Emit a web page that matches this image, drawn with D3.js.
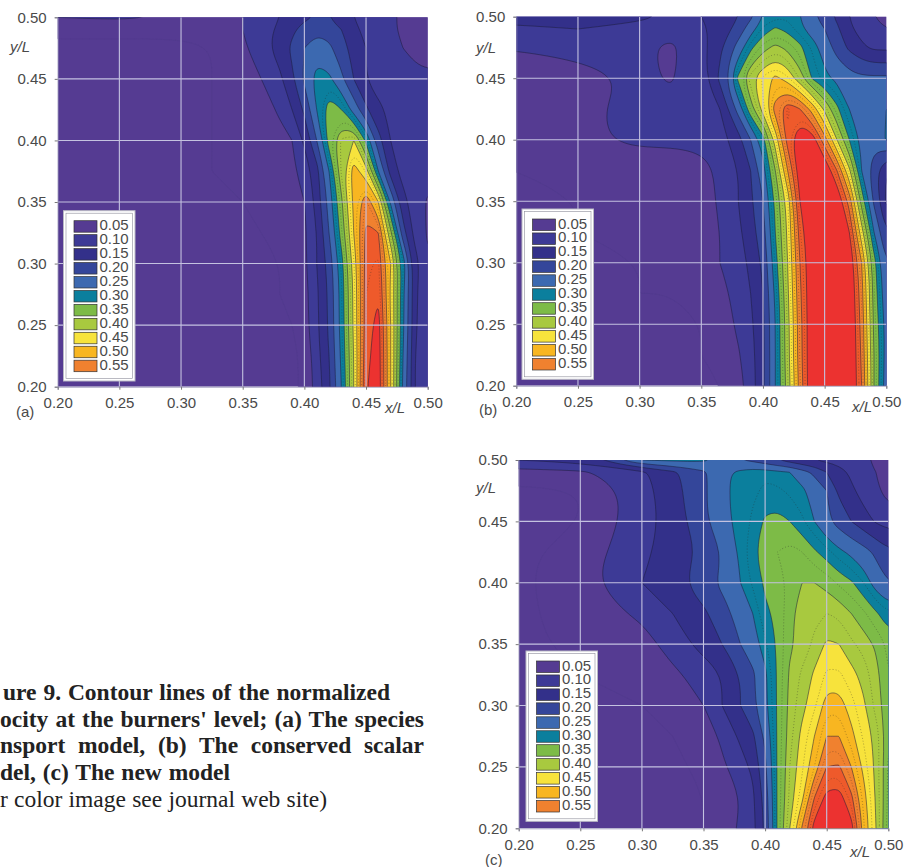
<!DOCTYPE html>
<html><head><meta charset="utf-8">
<style>html,body{margin:0;padding:0;background:#fff;overflow:hidden}</style>
<script src="https://cdnjs.cloudflare.com/ajax/libs/d3/7.8.5/d3.min.js"></script>
</head><body><svg id="c" width="906" height="867" xmlns="http://www.w3.org/2000/svg"></svg>
<script>
const xNodes=[.20,.25,.30,.325,.35,.365,.38,.39,.40,.41,.42,.43,.44,.45,.46,.47,.48,.49,.50];
const yNodes=[.50,.49,.475,.45,.425,.40,.375,.35,.325,.30,.275,.25,.225,.20];
const tickValues=[.20,.25,.30,.35,.40,.45,.50];
const levels=[.05,.10,.15,.20,.25,.30,.35,.40,.45,.50,.55,.60,.65];
const levelColors=["#553b92","#3d3a96","#33308a","#34469a","#3c69b0","#0b7f9d","#7dbb47","#a8c93f","#f7e33c","#f8b621","#f0812f","#ee5a2b","#ec3230"];
const legendLabels=["0.05","0.10","0.15","0.20","0.25","0.30","0.35","0.40","0.45","0.50","0.55"];
const dottedLevels=[.325,.375,.425,.475,.525,.575,.625];
const valuesA=[
[.10,.11,.09,.08,.10,.12,.15,.17,.19,.205,.20,.18,.15,.13,.12,.11,.09,.08,.08],
[.06,.06,.06,.07,.10,.13,.16,.19,.22,.24,.23,.20,.16,.14,.12,.11,.09,.08,.08],
[.04,.04,.04,.05,.09,.13,.17,.21,.25,.275,.26,.225,.18,.15,.12,.11,.10,.09,.09],
[.04,.04,.04,.05,.07,.10,.14,.19,.26,.32,.31,.26,.20,.15,.13,.12,.115,.11,.105],
[.04,.04,.04,.05,.06,.07,.11,.15,.21,.30,.375,.35,.28,.21,.16,.14,.13,.12,.12],
[.04,.04,.04,.05,.06,.07,.08,.10,.16,.25,.37,.43,.45,.34,.22,.15,.13,.12,.12],
[.04,.04,.04,.05,.05,.06,.08,.09,.12,.18,.30,.43,.52,.47,.30,.18,.13,.12,.115],
[.04,.04,.04,.04,.05,.06,.07,.08,.10,.17,.27,.39,.51,.58,.50,.29,.17,.12,.095],
[.04,.04,.04,.04,.04,.05,.06,.07,.09,.15,.25,.37,.50,.61,.60,.41,.22,.13,.095],
[.04,.04,.04,.04,.04,.04,.05,.07,.09,.15,.22,.33,.47,.62,.63,.50,.33,.17,.105],
[.04,.04,.04,.04,.04,.04,.05,.06,.08,.14,.21,.32,.46,.625,.645,.49,.31,.16,.10],
[.04,.04,.04,.04,.04,.04,.04,.05,.08,.14,.21,.32,.46,.625,.67,.50,.31,.16,.10],
[.04,.04,.04,.04,.04,.04,.04,.04,.06,.13,.20,.31,.45,.635,.675,.50,.30,.15,.10],
[.04,.04,.04,.04,.04,.04,.04,.04,.06,.12,.19,.30,.45,.645,.68,.50,.29,.15,.10]];
const valuesB=[
[.17,.17,.16,.14,.15,.17,.20,.24,.30,.32,.32,.30,.26,.23,.19,.15,.12,.10,.09],
[.14,.15,.135,.12,.14,.17,.22,.28,.33,.355,.34,.31,.28,.25,.21,.16,.13,.11,.10],
[.105,.115,.11,.09,.13,.19,.27,.34,.385,.41,.39,.36,.32,.28,.23,.19,.16,.14,.14],
[.06,.08,.11,.095,.13,.21,.36,.44,.48,.51,.48,.42,.345,.31,.29,.27,.26,.26,.26],
[.06,.085,.12,.12,.13,.15,.27,.38,.47,.57,.63,.60,.53,.44,.36,.30,.26,.27,.30],
[.06,.09,.11,.11,.115,.13,.18,.25,.33,.47,.62,.70,.68,.57,.45,.35,.29,.27,.305],
[.05,.06,.07,.07,.08,.11,.15,.20,.28,.40,.55,.68,.72,.70,.60,.46,.30,.22,.15],
[.04,.05,.05,.06,.07,.11,.15,.19,.25,.36,.47,.65,.72,.75,.70,.58,.38,.24,.14],
[.04,.05,.05,.05,.06,.10,.14,.18,.23,.35,.46,.62,.71,.75,.73,.65,.47,.30,.20],
[.04,.04,.05,.05,.06,.10,.13,.16,.21,.33,.45,.60,.70,.75,.75,.70,.55,.37,.25],
[.04,.04,.05,.05,.06,.08,.12,.15,.20,.31,.44,.59,.70,.75,.75,.71,.57,.38,.26],
[.04,.04,.04,.04,.05,.07,.11,.14,.19,.30,.43,.58,.70,.75,.75,.72,.58,.39,.28],
[.04,.04,.04,.04,.05,.06,.095,.13,.19,.30,.43,.58,.70,.75,.75,.72,.59,.40,.28],
[.04,.04,.04,.04,.04,.05,.08,.125,.19,.30,.42,.57,.70,.75,.75,.72,.60,.40,.27]];
const valuesC=[
[.15,.17,.30,.31,.31,.28,.25,.24,.22,.20,.18,.16,.15,.14,.13,.12,.11,.09,.08],
[.08,.09,.14,.19,.24,.29,.31,.32,.32,.31,.30,.27,.24,.20,.17,.14,.12,.10,.08],
[.04,.05,.13,.18,.24,.29,.315,.32,.33,.33,.32,.31,.28,.25,.19,.16,.13,.11,.08],
[.04,.05,.13,.17,.24,.29,.31,.33,.355,.36,.35,.33,.30,.26,.23,.20,.17,.145,.13],
[.04,.07,.14,.17,.21,.25,.31,.345,.365,.375,.385,.375,.355,.335,.31,.29,.27,.24,.21],
[.04,.08,.15,.18,.23,.26,.30,.33,.355,.365,.38,.40,.40,.39,.37,.355,.325,.28,.25],
[.04,.07,.11,.15,.19,.23,.27,.30,.345,.355,.395,.41,.42,.425,.42,.40,.38,.355,.33],
[.04,.06,.08,.12,.17,.20,.25,.28,.32,.355,.395,.41,.43,.455,.45,.43,.415,.395,.37],
[.04,.05,.07,.09,.12,.15,.20,.24,.29,.355,.405,.43,.455,.48,.48,.46,.44,.41,.375],
[.04,.04,.05,.07,.10,.15,.20,.24,.29,.355,.41,.44,.47,.515,.515,.485,.455,.415,.38],
[.04,.04,.04,.05,.07,.11,.16,.19,.26,.355,.415,.46,.50,.55,.55,.51,.47,.44,.38],
[.04,.04,.04,.04,.06,.09,.13,.16,.24,.355,.425,.47,.525,.60,.605,.55,.49,.44,.37],
[.04,.04,.04,.04,.05,.08,.10,.14,.22,.355,.43,.49,.60,.665,.67,.61,.515,.445,.37],
[.04,.04,.04,.04,.05,.07,.11,.135,.21,.355,.45,.555,.67,.72,.72,.67,.53,.45,.36]];
const panels=[
 {id:"(a)",values:valuesA,l:57.7,r:427.7,t:17.3,b:386.7,lx:63.5,ly:210.7,tagX:16,tagY:417,xlX:395,xlY:413,ylX:20,ylY:52},
 {id:"(b)",values:valuesB,l:516.3,r:886.3,t:16.7,b:385.7,lx:522,ly:209,tagX:479,tagY:415,xlX:862,xlY:412,ylX:486,ylY:53},
 {id:"(c)",values:valuesC,l:518.7,r:888.3,t:460,b:828.3,lx:526,ly:651,tagX:485,tagY:865,xlX:860,xlY:857,ylX:486,ylY:493}
];
const captionLines=[
 {text:"ure 9. Contour lines of the normalized",start:3,end:390,bold:true,y:700},
 {text:"ocity at the burners' level; (a) The species",start:0,end:424,bold:true,y:727},
 {text:"nsport model, (b) The conserved scalar",start:0,end:424,bold:true,y:753},
 {text:"del, (c) The new model",start:0,end:230,bold:true,y:780},
 {text:"r color image see journal web site)",start:0,end:327,bold:false,y:807}
];
const svg=d3.select("#c");
const FONT="'Liberation Sans',Arial,sans-serif";
const TXT="#4a4a4a";
const idxX=d3.scaleLinear().domain(d3.range(xNodes.length+2)).range([xNodes[0]-.01,...xNodes,xNodes[xNodes.length-1]+.01]);
const idxY=d3.scaleLinear().domain(d3.range(yNodes.length+2)).range([yNodes[0]+.01,...yNodes,yNodes[yNodes.length-1]-.01]);
panels.forEach((p,pi)=>{
  const x=d3.scaleLinear().domain([.2,.5]).range([p.l,p.r]);
  const y=d3.scaleLinear().domain([.2,.5]).range([p.b,p.t]);
  const rows=[p.values[0],...p.values,p.values[p.values.length-1]].map(r=>[r[0],...r,r[r.length-1]]);
  const n=rows[0].length,m=rows.length,flat=rows.flat();
  const contours=d3.contours().size([n,m]).smooth(true);
  const line=d3.line().curve(d3.curveBasisClosed).x(c=>x(idxX(c[0]-.5))).y(c=>y(idxY(c[1]-.5)));
  const pathOf=g=>g.coordinates.map(poly=>poly.map(ring=>line(ring.slice(0,-1))).join("")).join("");
  const g=svg.append("g");
  const cid="clip"+pi;
  g.append("clipPath").attr("id",cid).append("rect").attr("x",p.l).attr("y",p.t).attr("width",p.r-p.l).attr("height",p.b-p.t);
  const plot=g.append("g").attr("clip-path",`url(#${cid})`);
  plot.append("rect").attr("x",p.l).attr("y",p.t).attr("width",p.r-p.l).attr("height",p.b-p.t).attr("fill",levelColors[0]);
  contours.thresholds(levels)(flat).forEach((c,i)=>{
    if(!c.coordinates.length)return;
    plot.append("path").attr("d",pathOf(c)).attr("fill",levelColors[i]).attr("fill-rule","evenodd")
      .attr("stroke",i==0?"#4a3a86":"#1c1c3c").attr("stroke-width",i==0?.5:.7).attr("stroke-opacity",i==0?.5:.75);
  });
  contours.thresholds(dottedLevels)(flat).forEach(c=>{
    if(!c.coordinates.length)return;
    plot.append("path").attr("d",pathOf(c)).attr("fill","none").attr("stroke","#2a2a2a")
      .attr("stroke-width",.6).attr("stroke-dasharray","1 2").attr("stroke-opacity",.6);
  });
  const grid=plot.append("g").attr("stroke","#c4c2e0").attr("stroke-width",1.1);
  tickValues.slice(1,-1).forEach(v=>{
    grid.append("line").attr("x1",x(v)).attr("x2",x(v)).attr("y1",p.t).attr("y2",p.b);
    grid.append("line").attr("x1",p.l).attr("x2",p.r).attr("y1",y(v)).attr("y2",y(v));
  });
  const ax=g.append("g").attr("transform",`translate(0,${p.b})`).call(d3.axisBottom(x).tickValues(tickValues).tickFormat(d3.format(".2f")).tickSize(3).tickPadding(8));
  const ay=g.append("g").attr("transform",`translate(${p.l},0)`).call(d3.axisLeft(y).tickValues(tickValues).tickFormat(d3.format(".2f")).tickSize(3).tickPadding(8));
  [ax,ay].forEach(a=>{
    a.selectAll("text").attr("font-family",FONT).attr("font-size",15).attr("fill",TXT);
    a.selectAll("line").attr("stroke","#777");
    a.select(".domain").attr("stroke","#8a86b0").attr("stroke-width",.8);
  });
  const lg=g.append("g").attr("transform",`translate(${p.lx},${p.ly})`);
  lg.append("rect").attr("width",71.5).attr("height",170.3).attr("fill","#fff").attr("stroke","#b9b9c4").attr("stroke-width",1);
  lg.append("rect").attr("x",2.5).attr("y",2.5).attr("width",66.5).attr("height",165.3).attr("fill","none").attr("stroke","#8d8d99").attr("stroke-width",.6);
  legendLabels.forEach((t,i)=>{
    lg.append("rect").attr("x",10.5).attr("y",10+i*13.95).attr("width",23).attr("height",11.5).attr("fill",levelColors[i]).attr("stroke","#333").attr("stroke-width",.7);
    lg.append("text").attr("x",36).attr("y",19.5+i*13.95).text(t).attr("font-family",FONT).attr("font-size",15).attr("fill",TXT);
  });
  g.append("text").attr("x",p.tagX).attr("y",p.tagY).text(p.id).attr("font-family",FONT).attr("font-size",15).attr("fill",TXT);
  g.append("text").attr("x",p.xlX).attr("y",p.xlY).attr("text-anchor","middle").text("x/L").attr("font-family",FONT).attr("font-size",15).attr("font-style","italic").attr("fill",TXT);
  g.append("text").attr("x",p.ylX).attr("y",p.ylY).attr("text-anchor","middle").text("y/L").attr("font-family",FONT).attr("font-size",15).attr("font-style","italic").attr("fill",TXT);
});
captionLines.forEach(l=>{
  const t=svg.append("text").attr("x",l.start).attr("y",l.y).text(l.text)
    .attr("font-family","'Liberation Serif','Times New Roman',serif").attr("font-size",23.5).attr("font-weight",l.bold?"bold":"normal").attr("fill","#222");
  const natural=t.node().getComputedTextLength();
  t.attr("word-spacing",((l.end-l.start)-natural)/(l.text.split(" ").length-1));
});
</script></body></html>
